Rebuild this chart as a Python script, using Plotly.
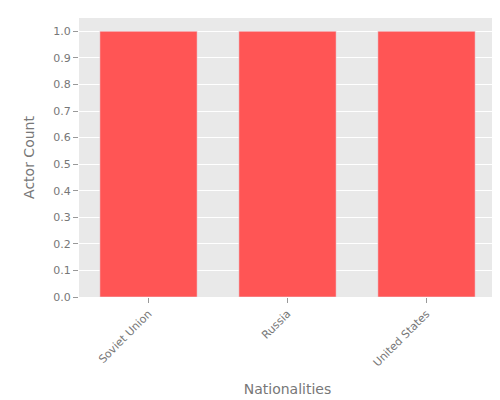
import plotly.graph_objects as go

categories = ["Soviet Union", "Russia", "United States"]
counts = [1, 1, 1]

fig = go.Figure(go.Bar(x=categories, y=counts, marker_color="#FF5555", width=0.7))
fig.update_layout(
    width=500, height=400,
    margin=dict(l=71, r=12, t=10, b=111),
    plot_bgcolor="#E9E9E9", paper_bgcolor="white",
    font=dict(family="DejaVu Sans", color="#777777", size=11),
    showlegend=False,
)
fig.update_xaxes(title=dict(text="Nationalities", font=dict(size=14)), tickangle=-45,
                 showgrid=False, ticks="outside", ticklen=5, tickcolor="#999")
fig.update_yaxes(title=dict(text="Actor Count", font=dict(size=14)), range=[0, 1.05],
                 dtick=0.1, tickformat=".1f", gridcolor="white", zeroline=False,
                 ticks="outside", ticklen=5, tickcolor="#999")
fig.write_html("out.html")
